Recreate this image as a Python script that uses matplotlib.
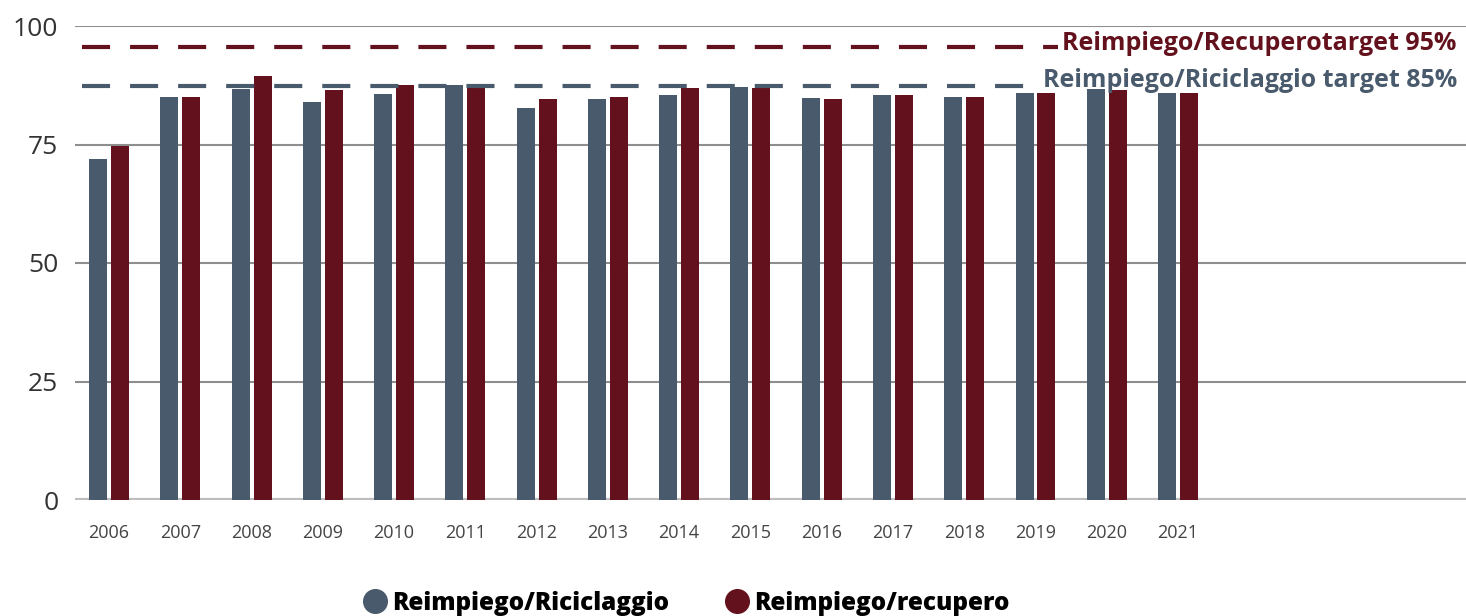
import matplotlib
matplotlib.use("Agg")
import matplotlib.pyplot as plt
from matplotlib.lines import Line2D
import numpy as np

years = ["2006", "2007", "2008", "2009", "2010", "2011", "2012", "2013",
         "2014", "2015", "2016", "2017", "2018", "2019", "2020", "2021"]
riciclaggio = [72.0, 85.0, 86.8, 83.9, 85.7, 87.5, 82.8, 84.7,
               85.5, 87.1, 84.8, 85.5, 85.1, 85.9, 86.8, 85.9]
recupero = [74.7, 85.0, 89.5, 86.6, 87.5, 87.1, 84.5, 85.1,
            87.0, 87.0, 84.7, 85.5, 85.0, 85.8, 86.5, 85.9]
target_recupero_line = 95.5
target_riciclaggio_line = 87.3
target_recupero_label = "Reimpiego/Recuperotarget 95%"
target_riciclaggio_label = "Reimpiego/Riciclaggio target 85%"
yticks = [0, 25, 50, 75, 100]

SLATE = "#485a6b"
RED = "#63111c"

plt.rcParams['font.family'] = ['Open Sans', 'DejaVu Sans']
plt.rcParams['lines.scale_dashes'] = False

W, H = 1466, 616
fig = plt.figure(figsize=(W / 100, H / 100), dpi=100, facecolor="white")
ax = fig.add_axes([75 / W, (H - 500) / H, (W - 75) / W, 474 / H])
ax.set_facecolor("none")

x = np.arange(len(years))
bw = 0.2526
off = 0.154
ax.bar(x - off, riciclaggio, bw, color=SLATE, zorder=3)
ax.bar(x + off, recupero, bw, color=RED, zorder=3)

ax.set_ylim(0, 100)
x_left = (75 - 109) / 71.27
x_right = (W - 109) / 71.27
ax.set_xlim(x_left, x_right)

for yv in yticks[1:]:
    ax.axhline(yv, color="#8e8e8e", lw=1.5, zorder=1)
ax.axhline(0, color="#bdbdbd", lw=3, zorder=2)

for s in ax.spines.values():
    s.set_visible(False)

ax.set_yticks(yticks)
ax.set_yticklabels([str(v) for v in yticks], fontsize=19, color="#333333")
ax.set_xticks(x)
ax.set_xticklabels(years, fontsize=13, color="#444444")
ax.tick_params(axis='y', length=0, pad=12)
ax.tick_params(axis='x', length=0, pad=17)

def px2x(p):
    return (p - 109) / 71.27

l1, = ax.plot([px2x(82), px2x(1058)], [target_recupero_line] * 2,
              color=RED, lw=3, zorder=4)
l1.set_dashes((20.2, 14.4))
l1.set_dash_capstyle('butt')
l2, = ax.plot([px2x(82), px2x(1038)], [target_riciclaggio_line] * 2,
              color=SLATE, lw=3, zorder=4)
l2.set_dashes((20.2, 14.4))
l2.set_dash_capstyle('butt')

ax.text(px2x(1062), 96.4, target_recupero_label, color=RED, fontsize=18,
        fontweight='bold', va='center', ha='left', zorder=5)
ax.text(px2x(1043), 88.4, target_riciclaggio_label, color=SLATE, fontsize=18,
        fontweight='bold', va='center', ha='left', zorder=5)

handles = [Line2D([], [], marker='o', linestyle='none', markersize=17,
                  markerfacecolor=SLATE, markeredgecolor=SLATE),
           Line2D([], [], marker='o', linestyle='none', markersize=17,
                  markerfacecolor=RED, markeredgecolor=RED)]
fig.legend(handles, ["Reimpiego/Riciclaggio", "Reimpiego/recupero"],
           loc='center', bbox_to_anchor=(686 / W, (H - 603) / H), ncol=2,
           frameon=False, prop={'weight': 'heavy', 'size': 17.5},
           handletextpad=0.2, columnspacing=2.3, handlelength=1.0)

fig.savefig("out.png", dpi=100, facecolor="white")
